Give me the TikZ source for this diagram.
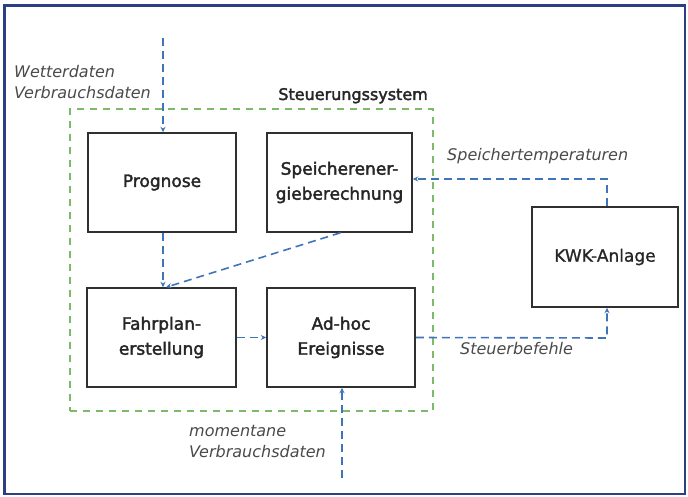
\documentclass[tikz,border=0pt]{standalone}
\usepackage{fontspec}
\setmainfont{DejaVu Sans}
\newfontfamily\boxfont[FakeBold=2.2]{DejaVu Sans}
\newfontfamily\kwkfont[FakeBold=1]{DejaVu Sans}
\usetikzlibrary{arrows.meta}
\definecolor{frameblue}{HTML}{2B3F85}
\definecolor{flowblue}{HTML}{3F74B8}
\definecolor{sysgreen}{HTML}{7DBA6A}
\definecolor{labelgray}{HTML}{4A4A4A}
\definecolor{boxgray}{HTML}{303030}
\begin{document}
\begin{tikzpicture}[x=1pt,y=-1pt,
  blk/.style={draw=boxgray,line width=1.5pt,fill=white,inner sep=0pt,align=center,font=\boxfont\fontsize{17}{25}\selectfont,text=black!85},
  flow/.style={draw=flowblue,line width=1.6pt,dash pattern=on 8pt off 5pt,-{Stealth[length=5.5pt,width=5pt]}},
  lbl/.style={font=\itshape\fontsize{16}{21}\selectfont,text=labelgray,inner sep=0pt,align=left}]
\useasboundingbox (0,0) rectangle (688,497);
\fill[white] (0,0) rectangle (688,497);
\draw[frameblue,line width=2.2pt] (4.5,5.5) rectangle (685,494);
% system box
\node[draw=sysgreen,line width=1.4pt,dash pattern=on 7pt off 6pt,minimum width=363pt,minimum height=302pt,inner sep=0pt] (sys) at (251.5,260) {};
\node[inner sep=0pt,anchor=base east,font=\boxfont\fontsize{16}{18}\selectfont,text=black!85] (systitle) at (428,100) {Steuerungssystem};
% blocks
\node[blk,minimum width=148pt,minimum height=99pt] (prog) at (162,182.5) {Prognose};
\node[blk,minimum width=145pt,minimum height=99pt] (spei) at (339.5,182.5) {Speicherener-\\gieberechnung};
\node[blk,minimum width=149pt,minimum height=99pt] (fahr) at (161.5,337.5) {Fahrplan-\\erstellung};
\node[blk,minimum width=148pt,minimum height=99pt] (adhoc) at (341,337.5) {Ad-hoc\\Ereignisse};
\node[blk,minimum width=146pt,minimum height=100pt,font=\kwkfont\fontsize{17}{22}\selectfont] (kwk) at (605,257) {KWK-Anlage};
% coordinates
\coordinate (topin) at (163,38);
\coordinate (botin) at (342,478);
\coordinate (rb) at (607,338);
\coordinate (rt) at (607,179);
% flows
\draw[flow] (topin) -- (prog.north -| topin);
\draw[flow] (prog.south -| topin) -- (fahr.north -| topin);
\draw[flow] ([xshift=1pt]spei.south) -- ([xshift=3pt]fahr.north -| topin);
\draw[flow] (fahr.east) -- (adhoc.west);
\draw[flow] (adhoc.east) -- (rb) -- (kwk.south -| rb);
\draw[flow] (kwk.north -| rt) -- (rt) -- (spei.east |- rt);
\draw[flow] (botin) -- (adhoc.south -| botin);
% labels
\node[lbl,anchor=north west] (wetter) at (14,65) {Wetterdaten\\Verbrauchsdaten};
\node[lbl,anchor=base west] (stemp) at (447,161) {Speichertemperaturen};
\node[lbl,anchor=base west] (sbef) at (460,354) {Steuerbefehle};
\node[lbl,anchor=north west] (moment) at (189,425.5) {momentane\\Verbrauchsdaten};
\end{tikzpicture}
\end{document}
